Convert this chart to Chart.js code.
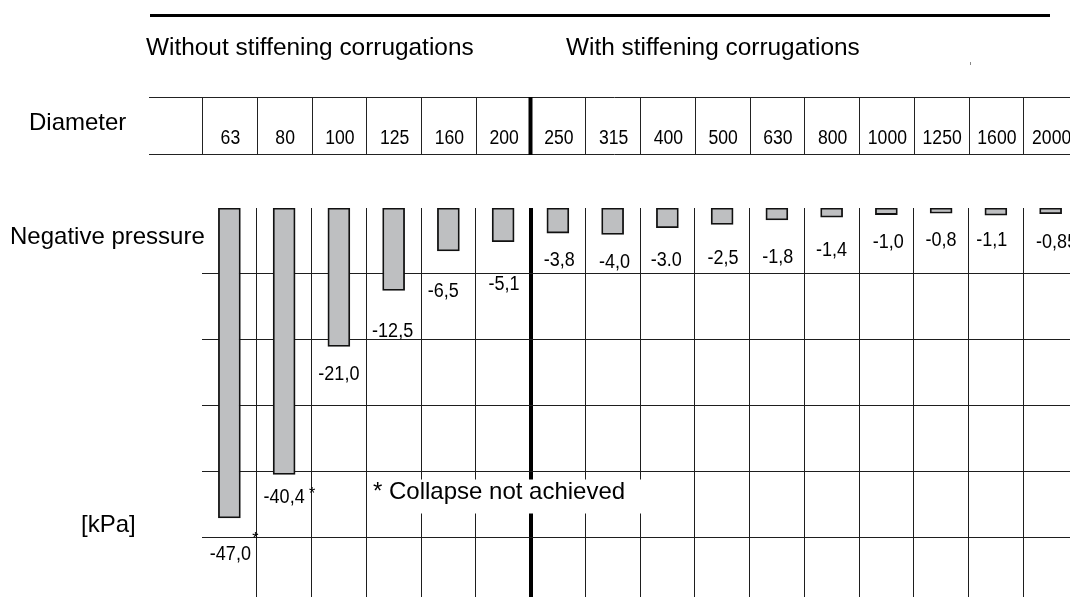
<!DOCTYPE html>
<html>
<head>
<meta charset="utf-8">
<script src="https://cdn.jsdelivr.net/npm/chart.js@4.4.1/dist/chart.umd.min.js"></script>
<style>
  html, body { margin: 0; padding: 0; background: #fff; overflow: hidden; }
  #wrap { width: 1070px; height: 597px; overflow: hidden; position: relative; }
  canvas { display: block; }
</style>
</head>
<body>
<div id="wrap"><canvas id="c" width="1080" height="597"></canvas></div>
<script>
// ---- data ----
const diameters = ["63","80","100","125","160","200","250","315","400","500","630","800","1000","1250","1600","2000"];
const pressure = [-47.0, -40.4, -21.0, -12.5, -6.5, -5.1, -3.8, -4.0, -3.0, -2.5, -1.8, -1.4, -1.0, -0.8, -1.1, -0.85];
const pressureLabels = ["-47,0","-40,4","-21,0","-12,5","-6,5","-5,1","-3,8","-4,0","-3.0","-2,5","-1,8","-1,4","-1,0","-0,8","-1,1","-0,85"];
const collapseNotAchieved = [true, true, false, false, false, false, false, false, false, false, false, false, false, false, false, false];
const gridTicks = [-50, -40, -30, -20, -10];
const groupTitles = ["Without stiffening corrugations", "With stiffening corrugations"];

// ---- label placement (style, px) ----
const labelDx = [1, 0, 0, -1, -5, 1, 1.5, 2, -1, 1, 1, 0, 2, 0, -4, 6];
const labelDy = [37, 23, 28, 41, 41, 43, 27, 28, 32.5, 34, 37.5, 33.5, 27.5, 27, 25, 28.5];
const starOffset = [[25, -20], [28, -7]];
const groupSplitIndex = 6;

const FONT = '"Liberation Sans", Arial, Helvetica, sans-serif';

function narrowText(ctx, text, x, y, sx) {
  ctx.save();
  ctx.translate(x, y);
  ctx.scale(sx, 1);
  ctx.fillText(text, 0, 0);
  ctx.restore();
}

const overlay = {
  id: 'overlay',
  beforeDraw(chart) {
    const ctx = chart.ctx;
    ctx.save();
    ctx.fillStyle = '#fff';
    ctx.fillRect(0, 0, chart.width, chart.height);
    ctx.restore();
  },
  afterDatasetsDraw(chart) {
    const ctx = chart.ctx;
    const xs = chart.scales.x;
    const half = (xs.getPixelForValue(1) - xs.getPixelForValue(0)) / 2;
    ctx.save();

    // top rule
    ctx.strokeStyle = '#000';
    ctx.lineWidth = 3;
    ctx.beginPath(); ctx.moveTo(150, 15.5); ctx.lineTo(1050, 15.5); ctx.stroke();

    // group titles
    ctx.fillStyle = '#000';
    ctx.font = '24.4px ' + FONT;
    ctx.textAlign = 'left';
    ctx.textBaseline = 'alphabetic';
    ctx.fillText(groupTitles[0], 146, 55);
    ctx.fillText(groupTitles[1], 566, 55);

    // stray mark
    ctx.fillStyle = '#888';
    ctx.fillRect(970, 62, 1, 3);

    // diameter table
    ctx.strokeStyle = '#222';
    ctx.lineWidth = 1;
    ctx.beginPath();
    ctx.moveTo(149, 97.5); ctx.lineTo(chart.width, 97.5);
    ctx.moveTo(149, 154.5); ctx.lineTo(chart.width, 154.5);
    ctx.stroke();
    for (let i = 0; i < diameters.length; i++) {
      const x = xs.getPixelForValue(i) - half;
      ctx.beginPath();
      if (i === groupSplitIndex) {
        ctx.lineWidth = 4; ctx.strokeStyle = '#000';
        ctx.moveTo(x, 97); ctx.lineTo(x, 155);
      } else {
        ctx.lineWidth = 1; ctx.strokeStyle = '#222';
        ctx.moveTo(Math.round(x) + 0.5, 97); ctx.lineTo(Math.round(x) + 0.5, 155);
      }
      ctx.stroke();
    }
    ctx.fillStyle = '#000';
    ctx.font = '24px ' + FONT;
    ctx.fillText('Diameter', 29, 129.5);
    ctx.font = '20px ' + FONT;
    ctx.textAlign = 'center';
    diameters.forEach((d, i) => {
      narrowText(ctx, d, xs.getPixelForValue(i) + 1, 143.5, 0.88);
    });

    // side labels
    ctx.textAlign = 'left';
    ctx.font = '24px ' + FONT;
    ctx.fillText('Negative pressure', 10, 243.5);
    ctx.fillText('[kPa]', 81, 531.5);

    // collapse note box
    ctx.fillStyle = '#fff';
    ctx.fillRect(367, 479.5, 293, 34);
    ctx.fillStyle = '#000';
    ctx.font = '24px ' + FONT;
    ctx.fillText('* Collapse not achieved', 373, 498.5);

    // value labels
    const meta = chart.getDatasetMeta(0);
    ctx.font = '20px ' + FONT;
    ctx.textAlign = 'center';
    ctx.textBaseline = 'middle';
    let starIdx = 0;
    meta.data.forEach((el, i) => {
      const lx = el.x + labelDx[i];
      const ly = el.y + labelDy[i];
      ctx.fillStyle = '#000';
      narrowText(ctx, pressureLabels[i], lx, ly, 0.9);
      if (collapseNotAchieved[i]) {
        const off = starOffset[starIdx++] || [25, -10];
        ctx.save();
        ctx.font = '16px ' + FONT;
        ctx.textBaseline = 'alphabetic';
        ctx.fillText('*', lx + off[0], ly + off[1] + 9);
        ctx.restore();
      }
    });
    ctx.restore();
  }
};

new Chart(document.getElementById('c'), {
  type: 'bar',
  data: {
    labels: diameters,
    datasets: [{
      data: pressure,
      backgroundColor: '#bebfc1',
      borderColor: '#111',
      borderWidth: 1.8,
      borderSkipped: false,
      barThickness: 22
    }]
  },
  options: {
    responsive: false,
    animation: false,
    devicePixelRatio: 1,
    layout: { padding: { top: 208, left: 202, right: 2, bottom: 0 } },
    plugins: { legend: { display: false }, tooltip: { enabled: false }, title: { display: false } },
    scales: {
      x: {
        type: 'category',
        offset: true,
        ticks: { display: false },
        border: { display: false },
        grid: {
          offset: true,
          drawTicks: false,
          color: (c) => (c.index === 0 ? 'rgba(0,0,0,0)' : (c.index === groupSplitIndex ? '#000' : '#1e1e1e')),
          lineWidth: (c) => (c.index === groupSplitIndex ? 4 : 1)
        }
      },
      y: {
        min: -59,
        max: 0,
        afterBuildTicks: (scale) => { scale.ticks = gridTicks.map(v => ({ value: v })); },
        ticks: { display: false },
        border: { display: false },
        grid: { drawTicks: false, color: '#1e1e1e', lineWidth: 1 }
      }
    }
  },
  plugins: [overlay]
});
</script>
</body>
</html>
